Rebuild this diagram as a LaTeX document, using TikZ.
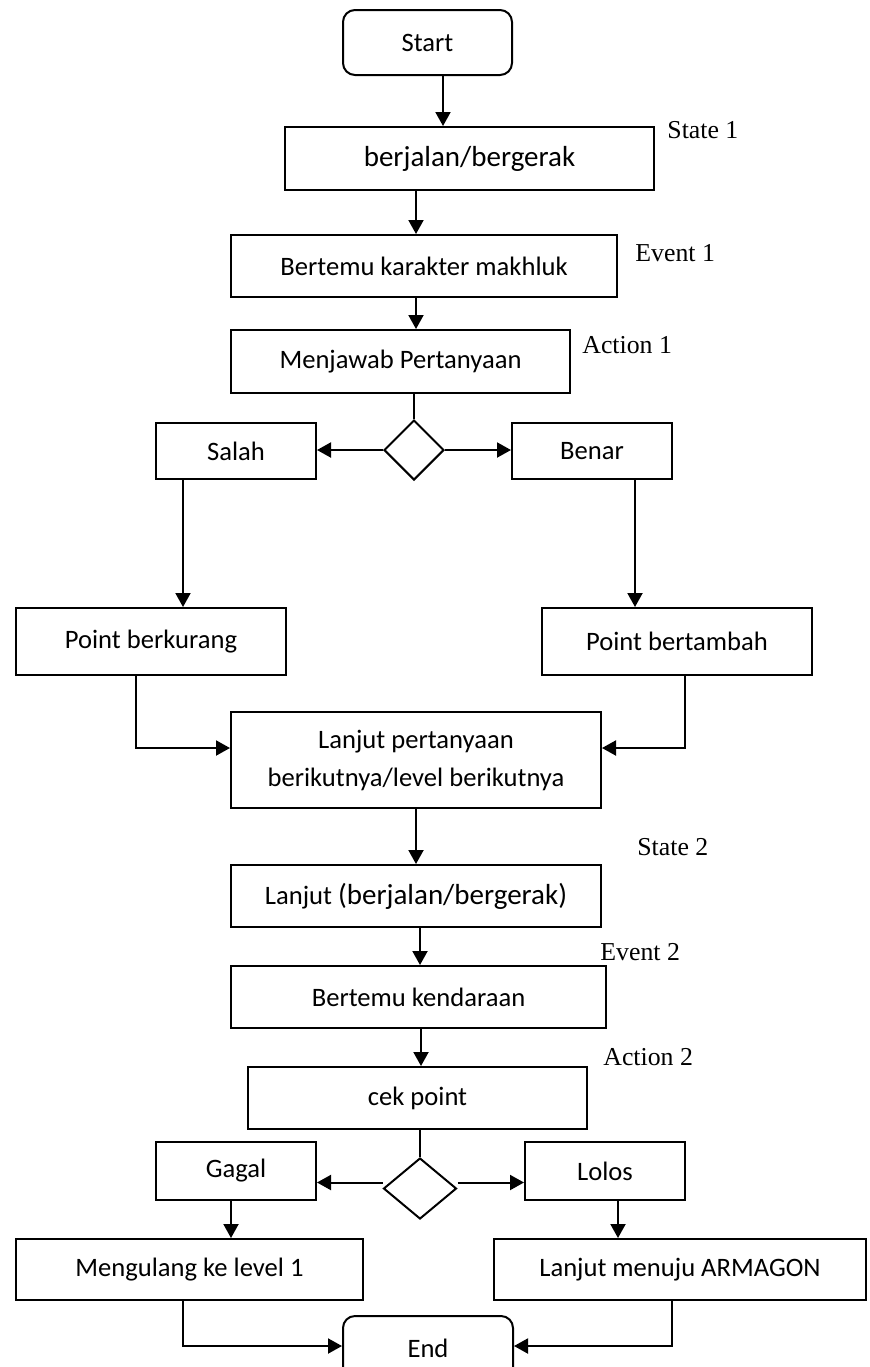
\documentclass[tikz,border=0pt]{standalone}
\usepackage{fontspec}
\setmainfont{Carlito}
\newfontfamily\tnr{Liberation Serif}
\usetikzlibrary{arrows.meta,shapes.geometric}
\newcommand\bigtxt{\fontsize{14.5}{17}\selectfont}
\tikzset{
  box/.style={draw, line width=1pt, inner sep=0pt, align=center,
              font=\fontsize{13.3}{19}\selectfont},
  term/.style={box, rounded corners=6pt},
  dec/.style={draw, line width=1pt, diamond, inner sep=0pt},
  tag/.style={font=\tnr\fontsize{12.9}{15}\selectfont, anchor=base west, inner sep=0pt},
  arr/.style={line width=1pt, -{Triangle[length=7pt,width=7.5pt]}},
  ln/.style={line width=1pt},
}
\begin{document}
\begin{tikzpicture}[x=0.5pt,y=-0.5pt]
\path[use as bounding box, clip] (0,0) rectangle (870,1367);
\fill[white] (0,0) rectangle (870,1367);

% upper part: state 1, event 1, action 1
\node[term, minimum width=84.5pt, minimum height=32.5pt] (start) at (427.5,42.5) {Start};
\node[box, font=\bigtxt, minimum width=184.5pt, minimum height=31.5pt] (s1) at (469.5,158.5) {berjalan/bergerak};
\node[tag] (t1) at (667,138) {State 1};
\node[box, minimum width=193pt, minimum height=31pt] (e1) at (424,266) {Bertemu karakter makhluk};
\node[tag] (t2) at (635,261) {Event 1};
\node[box, minimum width=169.5pt, minimum height=31.5pt] (a1) at (400.5,361.5) {Menjawab Pertanyaan};
\node[tag] (t3) at (582,353) {Action 1};
\node[dec, minimum width=30pt, minimum height=30pt] (d1) at (414,450) {};
\node[box, minimum width=80pt, minimum height=28pt] (salah) at (236,451) {Salah};
\node[box, minimum width=80pt, minimum height=28pt] (benar) at (592,451) {Benar};
\node[box, minimum width=135pt, minimum height=33.5pt] (pk) at (151,641.5) {Point berkurang};
\node[box, minimum width=135pt, minimum height=33.5pt] (pb) at (677,641.5) {Point bertambah};
\node[box, minimum width=185pt, minimum height=48pt] (l1) at (416,760) {Lanjut pertanyaan\\berikutnya/level berikutnya};

% lower part: state 2, event 2, action 2
\node[tag] (t4) at (637,855) {State 2};
\node[box, minimum width=185pt, minimum height=31pt] (s2) at (416,896) {Lanjut {\bigtxt(berjalan/bergerak)}};
\node[tag] (t5) at (600,960) {Event 2};
\node[box, minimum width=187.5pt, minimum height=31pt] (e2) at (418.5,997) {Bertemu kendaraan};
\node[tag] (t6) at (603,1065) {Action 2};
\node[box, minimum width=169.5pt, minimum height=31pt] (a2) at (417.5,1098) {cek point};
\node[dec, minimum width=36.5pt, minimum height=30.5pt] (d2) at (420,1188.5) {};
\node[box, minimum width=80pt, minimum height=29pt] (gagal) at (236,1171) {Gagal};
\node[box, minimum width=80pt, minimum height=29pt] (lolos) at (605,1171) {Lolos};
\node[box, minimum width=173.5pt, minimum height=30.5pt] (mu) at (189.5,1269.5) {Mengulang ke level 1};
\node[box, minimum width=186pt, minimum height=30.5pt] (la) at (680,1269.5) {Lanjut menuju ARMAGON};
\node[term, minimum width=85pt, minimum height=32.5pt] (end) at (428,1348.5) {End};

% connectors
\draw[arr] ([xshift=7.75pt]start.south) -- ([xshift=7.75pt]start.south |- s1.north);
\draw[arr] ([xshift=-26.75pt]s1.south) -- ([xshift=-26.75pt]s1.south |- e1.north);
\draw[arr] ([xshift=-4pt]e1.south) -- ([xshift=-4pt]e1.south |- a1.north);
\draw[ln] (a1.south -| d1.north) -- (d1.north);
\draw[arr] (d1.west) -- (d1.west -| salah.east);
\draw[arr] (d1.east) -- (d1.east -| benar.west);
\draw[arr] ([xshift=-26.5pt]salah.south) -- ([xshift=-26.5pt]salah.south |- pk.north);
\draw[arr] ([xshift=21.5pt]benar.south) -- ([xshift=21.5pt]benar.south |- pb.north);
\draw[arr] ([xshift=-7.5pt]pk.south) |- ([yshift=6pt]l1.west);
\draw[arr] ([xshift=4pt]pb.south) |- ([yshift=6pt]l1.east);
\draw[arr] (l1.south) -- (s2.north);
\draw[arr] ([xshift=2pt]s2.south) -- ([xshift=2pt]s2.south |- e2.north);
\draw[arr] ([xshift=1.25pt]e2.south) -- ([xshift=1.25pt]e2.south |- a2.north);
\draw[ln] (a2.south -| d2.north) -- (d2.north);
\draw[arr] ([yshift=3pt]d2.west) -- ([yshift=3pt]d2.west -| gagal.east);
\draw[arr] ([yshift=3pt]d2.east) -- ([yshift=3pt]d2.east -| lolos.west);
\draw[arr] ([xshift=-2.5pt]gagal.south) -- ([xshift=-2.5pt]gagal.south |- mu.north);
\draw[arr] ([xshift=6.5pt]lolos.south) -- ([xshift=6.5pt]lolos.south |- la.north);
\draw[arr] ([xshift=-3.25pt]mu.south) |- ([yshift=1.25pt]end.west);
\draw[arr] ([xshift=-4pt]la.south) |- ([yshift=1.25pt]end.east);
\end{tikzpicture}
\end{document}
